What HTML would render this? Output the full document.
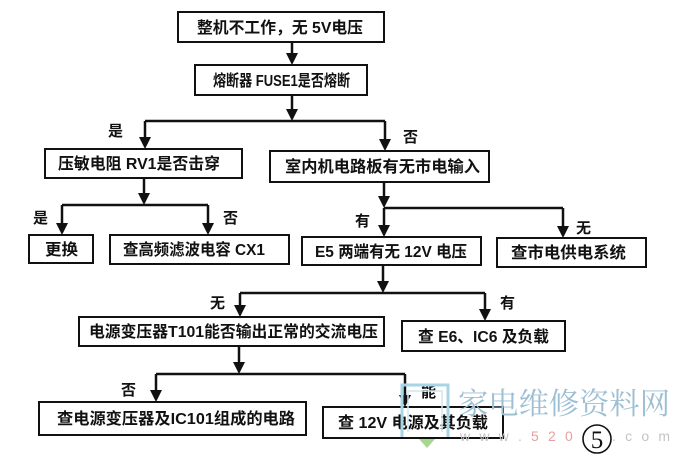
<!DOCTYPE html>
<html>
<head>
<meta charset="utf-8">
<style>
html,body{margin:0;padding:0;background:#fff;}
body{width:678px;height:462px;overflow:hidden;}
svg{display:block;}
.t{font-family:"Liberation Sans","Noto Sans CJK SC",sans-serif;font-size:16px;font-weight:bold;fill:#111;}
.l{font-family:"Liberation Sans","Noto Sans CJK SC",sans-serif;font-size:15px;font-weight:bold;fill:#111;}
</style>
</head>
<body>
<svg width="678" height="462" viewBox="0 0 678 462" xmlns="http://www.w3.org/2000/svg">
<rect width="678" height="462" fill="#fff"/>
<g fill="none" stroke="#111" stroke-width="2">
  <rect x="178" y="12" width="206" height="30"/>
  <rect x="195" y="65" width="172" height="30"/>
  <rect x="45" y="149" width="197" height="29"/>
  <rect x="270" y="151" width="219" height="31"/>
  <rect x="29" y="235" width="64" height="28"/>
  <rect x="110" y="235" width="179" height="29"/>
  <rect x="302" y="237" width="179" height="28"/>
  <rect x="497" y="238" width="149" height="29"/>
  <rect x="79" y="317" width="305" height="29"/>
  <rect x="402" y="321" width="163" height="30"/>
  <rect x="39" y="402" width="267" height="33"/>
  <rect x="323" y="407" width="180" height="31"/>
</g>
<g stroke="#111" stroke-width="2.5" fill="none">
  <line x1="292" y1="42" x2="292" y2="58"/>
  <line x1="292" y1="95" x2="292" y2="114"/>
  <line x1="145" y1="121" x2="385" y2="121"/>
  <line x1="145" y1="121" x2="145" y2="142"/>
  <line x1="385" y1="121" x2="385" y2="144"/>
  <line x1="144" y1="178" x2="144" y2="198"/>
  <line x1="62" y1="205" x2="208" y2="205"/>
  <line x1="62" y1="205" x2="62" y2="228"/>
  <line x1="208" y1="205" x2="208" y2="228"/>
  <line x1="384" y1="182" x2="384" y2="201"/>
  <line x1="384" y1="208" x2="563" y2="208"/>
  <line x1="384" y1="208" x2="384" y2="230"/>
  <line x1="563" y1="208" x2="563" y2="231"/>
  <line x1="383" y1="265" x2="383" y2="286"/>
  <line x1="240" y1="293" x2="485" y2="293"/>
  <line x1="240" y1="293" x2="240" y2="310"/>
  <line x1="485" y1="293" x2="485" y2="314"/>
  <line x1="239" y1="346" x2="239" y2="367"/>
  <line x1="156" y1="374" x2="405" y2="374"/>
  <line x1="156" y1="374" x2="156" y2="395"/>
  <line x1="405" y1="374" x2="405" y2="400"/>
</g>
<g fill="#111">
  <polygon points="286,53 298,53 292,65"/>
  <polygon points="286,109 298,109 292,121"/>
  <polygon points="139,137 151,137 145,149"/>
  <polygon points="379,139 391,139 385,151"/>
  <polygon points="138,193 150,193 144,205"/>
  <polygon points="56,223 68,223 62,235"/>
  <polygon points="202,223 214,223 208,235"/>
  <polygon points="378,196 390,196 384,208"/>
  <polygon points="378,225 390,225 384,237"/>
  <polygon points="557,226 569,226 563,238"/>
  <polygon points="377,281 389,281 383,293"/>
  <polygon points="234,305 246,305 240,317"/>
  <polygon points="479,309 491,309 485,321"/>
  <polygon points="233,362 245,362 239,374"/>
  <polygon points="150,390 162,390 156,402"/>
  <polygon points="399,395 411,395 405,407"/>
</g>
<g>
  <text class="t" x="197" y="33" textLength="166" lengthAdjust="spacingAndGlyphs">整机不工作，无 5V电压</text>
  <text class="t" x="213" y="86" textLength="137" lengthAdjust="spacingAndGlyphs">熔断器 FUSE1是否熔断</text>
  <text class="t" x="58" y="169" textLength="162" lengthAdjust="spacingAndGlyphs">压敏电阻 RV1是否击穿</text>
  <text class="t" x="285" y="172" textLength="195" lengthAdjust="spacingAndGlyphs">室内机电路板有无市电输入</text>
  <text class="t" x="45" y="255" textLength="33" lengthAdjust="spacingAndGlyphs">更换</text>
  <text class="t" x="123" y="255" textLength="142" lengthAdjust="spacingAndGlyphs">查高频滤波电容 CX1</text>
  <text class="t" x="315" y="257" textLength="152" lengthAdjust="spacingAndGlyphs">E5 两端有无 12V 电压</text>
  <text class="t" x="511" y="258" textLength="115" lengthAdjust="spacingAndGlyphs">查市电供电系统</text>
  <text class="t" x="89" y="337" textLength="289" lengthAdjust="spacingAndGlyphs">电源变压器T101能否输出正常的交流电压</text>
  <text class="t" x="418" y="342" textLength="131" lengthAdjust="spacingAndGlyphs">查 E6、IC6 及负载</text>
  <text class="t" x="57" y="424" textLength="238" lengthAdjust="spacingAndGlyphs">查电源变压器及IC101组成的电路</text>
  <text class="t" x="338" y="428" textLength="150" lengthAdjust="spacingAndGlyphs">查 12V 电源及其负载</text>
</g>
<g>
  <text class="l" x="108" y="136">是</text>
  <text class="l" x="403" y="142">否</text>
  <text class="l" x="33" y="223">是</text>
  <text class="l" x="223" y="223">否</text>
  <text class="l" x="355" y="226">有</text>
  <text class="l" x="576" y="233">无</text>
  <text class="l" x="210" y="308">无</text>
  <text class="l" x="500" y="308">有</text>
  <text class="l" x="121" y="395">否</text>
  <text class="l" x="421" y="397">能</text>
</g>
<!-- watermark -->
<g>
  <path d="M402,437 L402,385 L448,385 L448,437" fill="none" stroke="#a8d4e4" stroke-width="3"/>
  <path d="M408,432 L408,391 L442,391 L442,432" fill="none" stroke="#cfe6ef" stroke-width="1.5"/>
  <polygon points="419,439 435,439 427,448" fill="#a6d890"/>
  <text x="458" y="414" font-family="'Noto Serif CJK SC','Liberation Serif',serif" font-size="30" fill="#9dbfd3" textLength="212" lengthAdjust="spacingAndGlyphs">家电维修资料网</text>
  <text x="460" y="441" font-family="'Liberation Sans',sans-serif" font-size="14" fill="#c4c4c4" textLength="210" lengthAdjust="spacing">w w w . <tspan fill="#e8a0a0">5 2 0</tspan> 1 . . c o m</text>
</g>
<circle cx="597" cy="439" r="14" fill="#fff" stroke="#111" stroke-width="1.6"/>
<text x="597" y="448" text-anchor="middle" font-family="'Liberation Serif',serif" font-size="25" fill="#111">5</text>
</svg>
</body>
</html>
